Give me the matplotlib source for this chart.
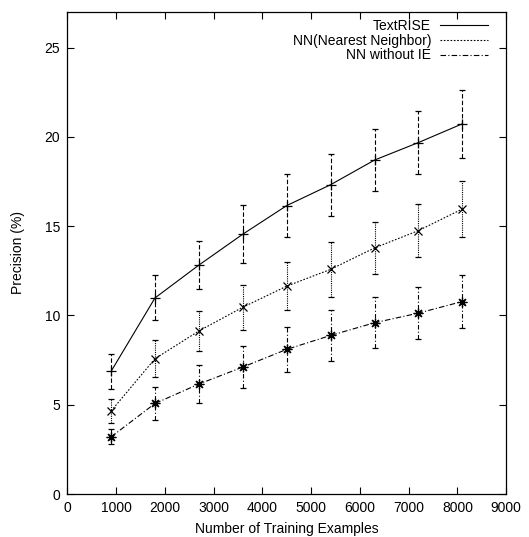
import matplotlib
matplotlib.use("Agg")
import matplotlib.pyplot as plt
from matplotlib.lines import Line2D

plt.rcParams['font.family'] = ['Liberation Sans', 'DejaVu Sans']
plt.rcParams['font.size'] = 10

examples = [900, 1800, 2700, 3600, 4500, 5400, 6300, 7200, 8100]

textrise = [6.87, 10.98, 12.82, 14.55, 16.15, 17.32, 18.7, 19.68, 20.73]
textrise_err = [0.98, 1.26, 1.35, 1.63, 1.78, 1.74, 1.73, 1.76, 1.9]

nn = [4.65, 7.58, 9.13, 10.46, 11.64, 12.58, 13.78, 14.75, 15.96]
nn_err = [0.69, 1.05, 1.11, 1.25, 1.33, 1.52, 1.45, 1.49, 1.59]

nn_noie = [3.2, 5.07, 6.16, 7.11, 8.1, 8.88, 9.59, 10.13, 10.78]
nn_noie_err = [0.42, 0.95, 1.05, 1.2, 1.28, 1.42, 1.42, 1.45, 1.46]

fig = plt.figure(figsize=(5.29, 5.37), dpi=100)
ax = fig.add_subplot(111)
fig.subplots_adjust(left=0.127, right=0.957, top=0.978, bottom=0.08)

series = [
    (textrise, textrise_err, '-', (0, (4, 2)), '+', 7, 'TextRISE'),
    (nn, nn_err, (0, (1.5, 1.5)), (0, (1, 1)), 'x', 5.5, 'NN(Nearest Neighbor)'),
    (nn_noie, nn_noie_err, (0, (5, 2, 1, 2)), (0, (4, 2, 1, 2)), (8, 2, 0), 7, 'NN without IE'),
]

handles = []
for vals, err, ls, els, mk, ms, lab in series:
    line, caps, bars = ax.errorbar(examples, vals, yerr=err, color='black',
                                   linestyle=ls, linewidth=0.8, marker=mk,
                                   markersize=ms, markeredgewidth=0.9,
                                   elinewidth=0.8, capsize=2.5, capthick=0.8)
    for b in bars:
        b.set_linestyle(els)
    handles.append(Line2D([], [], color='black', linestyle=ls, linewidth=0.8, label=lab))

ax.set_xlim(0, 9000)
ax.set_ylim(0, 27)
ax.set_xticks(range(0, 9001, 1000))
ax.set_yticks(range(0, 26, 5))
ax.tick_params(direction='in', top=True, right=True, length=5, width=0.8, pad=5)
for s in ax.spines.values():
    s.set_linewidth(0.9)

ax.set_xlabel('Number of Training Examples', labelpad=5)
ax.set_ylabel('Precision (%)', labelpad=14)

ax.legend(handles=handles, loc='upper right', frameon=False, markerfirst=False,
          handlelength=3.5, handletextpad=0.6, labelspacing=0.05,
          borderaxespad=0.4, bbox_to_anchor=(0.984, 1.008))

fig.savefig('out.png', dpi=100)
